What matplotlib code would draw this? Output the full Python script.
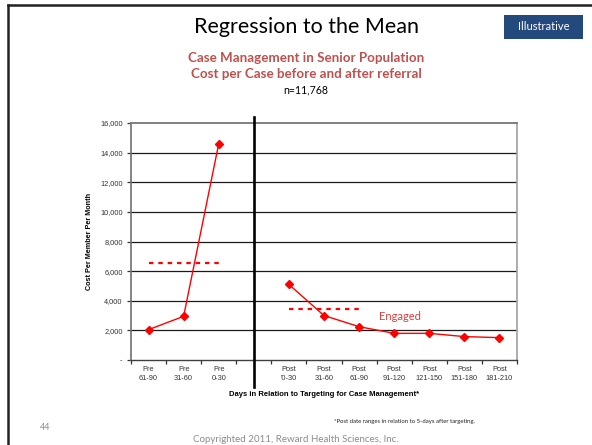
import matplotlib
matplotlib.use("Agg")
import matplotlib.pyplot as plt
from matplotlib.lines import Line2D
from matplotlib.patches import Rectangle

# periods around the targeting date (blank slot separates pre / post)
periods = ["Pre\n61-90", "Pre\n31-60", "Pre\n0-30", "",
           "Post\n'0-30", "Post\n31-60", "Post\n61-90", "Post\n91-120",
           "Post\n121-150", "Post\n151-180", "Post\n181-210"]
pre_cost = [2050, 2950, 14600]
post_cost = [5100, 3000, 2250, 1800, 1800, 1580, 1510]
pre_mean = sum(pre_cost) / len(pre_cost)
engaged_mean = sum(post_cost[:3]) / 3
y_ticks = [0, 2000, 4000, 6000, 8000, 10000, 12000, 14000, 16000]
y_tick_labels = ["-" if v == 0 else f"{v:,}" for v in y_ticks]

W, H = 592, 445
fig = plt.figure(figsize=(W / 100, H / 100), dpi=100)
fig.patch.set_facecolor("white")


def px(x, y):
    return x / W, 1 - y / H


# slide frame (top and left edges)
fig.add_artist(Line2D([8 / W, 1], [1 - 5 / H, 1 - 5 / H], color="#222222", lw=1.8))
fig.add_artist(Line2D([8 / W, 8 / W], [0, 1 - 5 / H], color="#222222", lw=1.8))

title_font = ["Lato", "DejaVu Sans"]
fig.text(*px(307, 27), "Regression to the Mean", ha="center", va="center",
         fontsize=15.5, family=title_font, color="black")
fig.text(*px(306, 58), "Case Management in Senior Population", ha="center", va="center",
         fontsize=9.6, family=title_font, fontweight="bold", color="#C0504D")
fig.text(*px(306, 74), "Cost per Case before and after referral", ha="center", va="center",
         fontsize=9.6, family=title_font, fontweight="bold", color="#C0504D")
fig.text(*px(306, 90), "n=11,768", ha="center", va="center",
         fontsize=7.6, family=title_font, color="black")

# "Illustrative" tag
x0, y0 = px(504, 39)
fig.add_artist(Rectangle((x0, y0), 79 / W, 24 / H, transform=fig.transFigure,
                         facecolor="#24497D", edgecolor="none"))
fig.text(*px(543.5, 27), "Illustrative", ha="center", va="center",
         fontsize=8, family=title_font, color="white")

ax = fig.add_axes([131 / W, (H - 360) / H, 386 / W, 237 / H])
ax.set_xlim(-0.5, len(periods) - 0.5)
ax.set_ylim(0, 16000)

pre_x = list(range(len(pre_cost)))
post_x = list(range(4, 4 + len(post_cost)))

for v in y_ticks[1:-1]:
    ax.axhline(v, color="#1a1a1a", lw=0.9, zorder=1)

ax.plot(pre_x, pre_cost, color="#FF0000", lw=1, marker="D", ms=3.8, zorder=3)
ax.plot(post_x, post_cost, color="#FF0000", lw=1, marker="D", ms=3.8, zorder=3)

ax.plot([pre_x[0], pre_x[-1]], [pre_mean, pre_mean], color="#FF0000", lw=1.6,
        linestyle=(0, (2, 2.2)), zorder=2)
ax.plot([post_x[0], post_x[2]], [engaged_mean, engaged_mean], color="#FF0000", lw=1.6,
        linestyle=(0, (2, 2.2)), zorder=2)
ax.text(7.17, 2970, "Engaged", ha="center", va="center", fontsize=8,
        family=title_font, color="#E03C3C")

# divider between before and after targeting
ax.axvline(3, ymin=-0.115, ymax=1.025, color="black", lw=1.9, clip_on=False, zorder=4)

ax.set_yticks(y_ticks)
ax.set_yticklabels(y_tick_labels)
ax.set_xticks(range(len(periods)))
ax.set_xticklabels(periods)
ax.set_xticks([i + 0.5 for i in range(-1, len(periods))], minor=True)
ax.tick_params(axis="x", which="major", length=0, pad=4, labelsize=5.3, colors="#333333")
ax.tick_params(axis="x", which="minor", length=3, width=0.9, direction="out", color="#333333")
ax.tick_params(axis="y", length=3, width=0.9, direction="out", labelsize=5.3,
               colors="#333333", pad=3)
for lab in ax.get_xticklabels() + ax.get_yticklabels():
    lab.set_family(["Liberation Sans", "DejaVu Sans"])
    lab.set_linespacing(1.4)

ax.spines["top"].set_color("#808080")
ax.spines["top"].set_linewidth(1.4)
ax.spines["right"].set_color("#a0a0a0")
ax.spines["right"].set_linewidth(1.2)
ax.spines["left"].set_color("#707070")
ax.spines["left"].set_linewidth(1.2)
ax.spines["bottom"].set_color("#404040")
ax.spines["bottom"].set_linewidth(1.0)

ax.set_ylabel("Cost Per Member Per Month", fontsize=5.2, fontweight="bold",
              family=["Liberation Sans", "DejaVu Sans"], labelpad=5)
ax.set_xlabel("Days in Relation to Targeting for Case Management*", fontsize=5.5,
              fontweight="bold", family=["Liberation Sans", "DejaVu Sans"], labelpad=7)

fig.text(*px(404, 422), "*Post date ranges in relation to 5-days after targeting.",
         ha="center", va="center", fontsize=4.3, family=title_font, color="#222222")
fig.text(*px(45, 428), "44", ha="center", va="center", fontsize=6.5,
         family=title_font, color="#8c8c8c")
fig.text(*px(296, 444.5), "Copyrighted 2011, Reward Health Sciences, Inc.", ha="center",
         va="bottom", fontsize=7, family=title_font, color="#8c8c8c")

fig.savefig("out.png", dpi=100)
